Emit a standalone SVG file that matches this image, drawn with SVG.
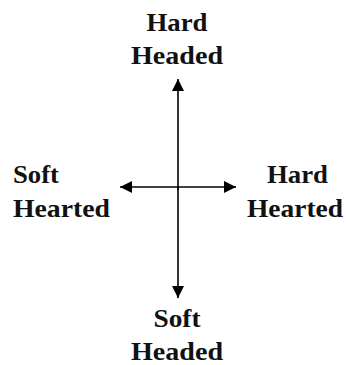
<svg xmlns="http://www.w3.org/2000/svg" width="346" height="365" viewBox="0 0 346 365">
<style>
text{font-family:"Liberation Serif","Times New Roman",serif;font-weight:bold;font-size:25px;fill:#111}
.c{text-anchor:middle}
line{stroke:#000;stroke-width:1.6}
</style>
<defs>
<marker id="ah" viewBox="0 0 10 10" refX="10" refY="5" markerWidth="12" markerHeight="12" markerUnits="userSpaceOnUse" orient="auto">
<path d="M0,0 L10,5 L0,10 z" fill="#000"/>
</marker>
</defs>
<rect width="346" height="365" fill="#fff"/>
<g id="connectors">
<line x1="178" y1="190" x2="178" y2="79" marker-end="url(#ah)"/>
<line x1="178" y1="187" x2="178" y2="298" marker-end="url(#ah)"/>
<line x1="178" y1="187" x2="120" y2="187" marker-end="url(#ah)"/>
<line x1="178" y1="187" x2="236" y2="187" marker-end="url(#ah)"/>
</g>
<g id="hard-headed">
<text class="c" x="177" y="31" textLength="61" lengthAdjust="spacingAndGlyphs">Hard</text>
<text class="c" x="177" y="64" textLength="92" lengthAdjust="spacingAndGlyphs">Headed</text>
</g>
<g id="soft-hearted">
<text x="13" y="183" textLength="46" lengthAdjust="spacingAndGlyphs">Soft</text>
<text x="13" y="217" textLength="97" lengthAdjust="spacingAndGlyphs">Hearted</text>
</g>
<g id="hard-hearted">
<text x="267" y="183" textLength="61" lengthAdjust="spacingAndGlyphs">Hard</text>
<text x="247" y="217" textLength="96" lengthAdjust="spacingAndGlyphs">Hearted</text>
</g>
<g id="soft-headed">
<text class="c" x="177" y="327" textLength="47" lengthAdjust="spacingAndGlyphs">Soft</text>
<text class="c" x="177" y="360" textLength="92" lengthAdjust="spacingAndGlyphs">Headed</text>
</g>
</svg>
